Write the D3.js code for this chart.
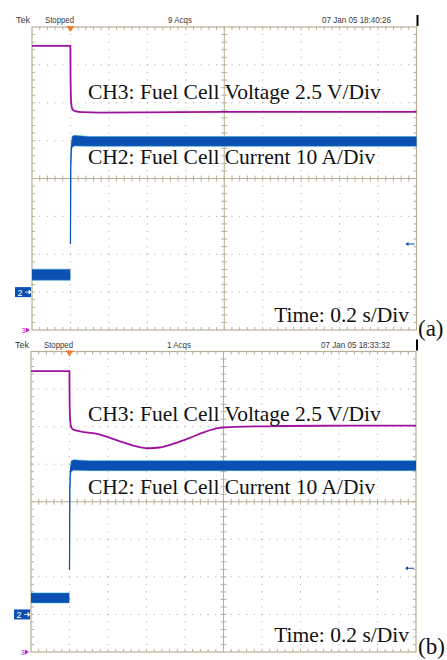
<!DOCTYPE html>
<html><head><meta charset="utf-8">
<script src="https://cdn.jsdelivr.net/npm/d3@7"></script>
<style>body{margin:0;background:#fff;overflow:hidden}</style>
</head><body><svg id="c" width="447" height="660"></svg>
<script>
// ---------------- data ----------------
const secPerDiv = 0.2;
const voltPerDiv = 2.5;
const ampPerDiv = 10;
const panelTags = ["(a)", "(b)"];
const acqLabels = ["9 Acqs", "1 Acqs"];
const stampLabels = ["07 Jan 05 18:40:26", "07 Jan 05 18:33:32"];
const ch3Label = "CH3: Fuel Cell Voltage 2.5 V/Div";
const ch2Label = "CH2: Fuel Cell Current 10 A/Div";
const timeLabel = "Time: 0.2 s/Div";

// panel (a) CH3 voltage (V) vs time (s)
const vA_t = [0, 0.1995, 0.2005, 0.203, 0.206, 0.212, 0.225, 0.26, 0.35, 0.6, 1.0, 1.4, 2.0];
const vA_v = [18.75, 18.75, 16.8, 15.2, 14.75, 14.55, 14.45, 14.38, 14.35, 14.37, 14.4, 14.4, 14.4];
// panel (a) CH2 current (A): before and after the step; ripple = half band width
const iA_pre_t = [0, 0.1995];
const iA_pre_i = [4.6, 4.6];
const iA_pre_r = [1.45, 1.45];
const iA_post_t = [0.2, 0.2015, 0.204, 0.208, 0.22, 0.3, 1.0, 2.0];
const iA_post_i = [12.7, 33, 37.5, 39.6, 40.0, 39.8, 39.8, 39.8];
const iA_post_r = [0, 0.5, 1.3, 1.5, 1.4, 1.3, 1.3, 1.3];
const trigLevelA = 12.7;

// panel (b) CH3 voltage (V)
const vB_t = [0, 0.1995, 0.2005, 0.203, 0.208, 0.215, 0.224, 0.354, 0.458, 0.5625, 0.615, 0.667, 0.745, 0.823, 0.901, 0.979, 1.057, 1.292, 1.656, 2.0];
const vB_v = [18.7, 18.7, 16.8, 15.5, 15.0, 14.85, 14.78, 14.48, 14.04, 13.64, 13.56, 13.61, 13.88, 14.24, 14.64, 14.91, 14.99, 15.04, 15.06, 15.06];
// panel (b) CH2 current (A)
const iB_pre_t = [0, 0.1995];
const iB_pre_i = [4.4, 4.4];
const iB_pre_r = [1.33, 1.33];
const iB_post_t = [0.2, 0.2015, 0.204, 0.208, 0.22, 0.3, 1.0, 2.0];
const iB_post_i = [11.8, 33, 37.3, 39.4, 39.8, 39.6, 39.6, 39.6];
const iB_post_r = [0, 0.5, 1.3, 1.45, 1.4, 1.33, 1.33, 1.33];
const trigLevelB = 12.3;

// ---------------- layout ----------------
const panels = [
  {left: 32, right: 416.5, top: 27, bottom: 330, tag: panelTags[0], acq: acqLabels[0], stamp: stampLabels[0],
   vt: vA_t, vv: vA_v, pre: [iA_pre_t, iA_pre_i, iA_pre_r], post: [iA_post_t, iA_post_i, iA_post_r], trig: trigLevelA,
   ch3Y: 98.5, ch2Y: 163.5, timeY: 322, tagY: 336},
  {left: 31, right: 416, top: 351.5, bottom: 652, tag: panelTags[1], acq: acqLabels[1], stamp: stampLabels[1],
   vt: vB_t, vv: vB_v, pre: [iB_pre_t, iB_pre_i, iB_pre_r], post: [iB_post_t, iB_post_i, iB_post_r], trig: trigLevelB,
   ch3Y: 420.5, ch2Y: 494, timeY: 641.5, tagY: 654}
];

const svg = d3.select("#c");
const gridCol = "#b9af95", dotCol = "#a9a596";
const purple = "#a0109f", blue = "#0a50b2", edge = "#2ea6cf";

panels.forEach(p => {
  const g = svg.append("g");
  const x = d3.scaleLinear().domain([0, 10 * secPerDiv]).range([p.left, p.right]);
  const yV = d3.scaleLinear().domain([0, 8 * voltPerDiv]).range([p.bottom, p.top]);
  const yI = d3.scaleLinear().domain([-1 * ampPerDiv, 7 * ampPerDiv]).range([p.bottom, p.top]);
  const dx = (p.right - p.left) / 10, dy = (p.bottom - p.top) / 8;
  const cx = (p.left + p.right) / 2, cy = (p.top + p.bottom) / 2;

  // header
  const hy = p.top - 4;
  const hdr = [["Tek", p.left - 16, 14], ["Stopped", p.left + 13, 29], [p.acq, p.left + 136, 24], [p.stamp, p.left + 290, 69]];
  hdr.forEach(([t, xx, w]) => g.append("text").attr("x", xx).attr("y", hy).attr("font-family", "Liberation Sans, Arial")
    .attr("font-size", 9).attr("fill", "#3a3a3a").attr("textLength", w).attr("lengthAdjust", "spacingAndGlyphs").text(t));
  g.append("line").attr("x1", p.right + 1).attr("x2", p.right + 1).attr("y1", p.top - 12).attr("y2", p.top - 1)
    .attr("stroke", "#000").attr("stroke-width", 2);

  // dotted grid
  for (let i = 1; i < 10; i++) {
    if (i === 5) continue;
    g.append("line").attr("x1", p.left + i * dx).attr("x2", p.left + i * dx).attr("y1", p.top).attr("y2", p.bottom)
      .attr("stroke", dotCol).attr("stroke-width", 1).attr("stroke-dasharray", `1,${dy / 5 - 1}`).attr("stroke-dashoffset", 0.5);
  }
  for (let j = 1; j < 8; j++) {
    if (j === 4) continue;
    g.append("line").attr("y1", p.top + j * dy).attr("y2", p.top + j * dy).attr("x1", p.left).attr("x2", p.right)
      .attr("stroke", dotCol).attr("stroke-width", 1).attr("stroke-dasharray", `1,${dx / 5 - 1}`).attr("stroke-dashoffset", 0.5);
  }
  // center cross
  g.append("line").attr("x1", cx).attr("x2", cx).attr("y1", p.top).attr("y2", p.bottom).attr("stroke", gridCol);
  g.append("line").attr("y1", cy).attr("y2", cy).attr("x1", p.left).attr("x2", p.right).attr("stroke", gridCol);
  // ticks
  for (let k = 1; k < 50; k++) {
    const xx = p.left + k * dx / 5;
    const L = 3;
    g.append("line").attr("x1", xx).attr("x2", xx).attr("y1", p.top).attr("y2", p.top + L).attr("stroke", gridCol);
    g.append("line").attr("x1", xx).attr("x2", xx).attr("y1", p.bottom).attr("y2", p.bottom - L).attr("stroke", gridCol);
    g.append("line").attr("x1", xx).attr("x2", xx).attr("y1", cy - 3).attr("y2", cy + 3).attr("stroke", gridCol);
  }
  for (let k = 1; k < 40; k++) {
    const yy = p.top + k * dy / 5;
    const L = 3;
    g.append("line").attr("y1", yy).attr("y2", yy).attr("x1", p.left).attr("x2", p.left + L).attr("stroke", gridCol);
    g.append("line").attr("y1", yy).attr("y2", yy).attr("x1", p.right).attr("x2", p.right - L).attr("stroke", gridCol);
    g.append("line").attr("y1", yy).attr("y2", yy).attr("x1", cx - 3).attr("x2", cx + 3).attr("stroke", gridCol);
  }
  g.append("rect").attr("x", p.left).attr("y", p.top).attr("width", p.right - p.left).attr("height", p.bottom - p.top)
    .attr("fill", "none").attr("stroke", gridCol).attr("stroke-width", 1.2);

  // trigger position marker
  const tx = x(secPerDiv);
  g.append("path").attr("d", `M${tx - 4},${p.top - 1}L${tx + 4},${p.top - 1}L${tx},${p.top + 5}Z`).attr("fill", "#f27a2a");

  // CH2 current band
  const band = (arr) => {
    const d = arr[0].map((t, k) => ({t, i: arr[1][k], r: arr[2][k]}));
    g.append("path").datum(d).attr("fill", blue)
      .attr("d", d3.area().x(o => x(o.t)).y0(o => yI(o.i - o.r)).y1(o => yI(o.i + o.r)));
    g.append("path").datum(d).attr("fill", "none").attr("stroke", edge).attr("stroke-width", 0.7).attr("opacity", 0.8)
      .attr("d", d3.line().x(o => x(o.t)).y(o => yI(o.i + o.r)));
    g.append("path").datum(d).attr("fill", "none").attr("stroke", edge).attr("stroke-width", 0.7).attr("opacity", 0.8)
      .attr("d", d3.line().x(o => x(o.t)).y(o => yI(o.i - o.r)));
    g.append("path").datum(d).attr("fill", "none").attr("stroke", blue).attr("stroke-width", 1.2)
      .attr("d", d3.line().x(o => x(o.t)).y(o => yI(o.i)));
  };
  band(p.pre);
  band(p.post);

  // CH3 voltage
  const vd = p.vt.map((t, k) => ({t, v: p.vv[k]}));
  g.append("path").datum(vd).attr("fill", "none").attr("stroke", purple).attr("stroke-width", 1.8)
    .attr("d", d3.line().x(o => x(o.t)).y(o => yV(o.v)).curve(d3.curveMonotoneX));

  // ground markers
  const g2 = yI(0);
  g.append("rect").attr("x", p.left - 17).attr("y", g2 - 5).attr("width", 16).attr("height", 10).attr("fill", blue);
  g.append("text").attr("x", p.left - 12).attr("y", g2 + 3.5).attr("font-family", "Liberation Sans, Arial")
    .attr("font-size", 9).attr("fill", "#fff").attr("text-anchor", "middle").text("2");
  g.append("path").attr("d", `M${p.left - 7},${g2}L${p.left - 3},${g2}M${p.left - 3},${g2 - 2}L${p.left - 1},${g2}L${p.left - 3},${g2 + 2}Z`)
    .attr("stroke", "#fff").attr("fill", "#fff").attr("stroke-width", 0.8);
  const g3 = yV(0);
  g.append("text").attr("x", p.left - 6).attr("y", g3 + 3).attr("font-family", "Liberation Sans, Arial")
    .attr("font-size", 8).attr("fill", "#c020c0").attr("text-anchor", "end").text("3");
  g.append("path").attr("d", `M${p.left - 6},${g3 - 2.5}L${p.left - 2},${g3}L${p.left - 6},${g3 + 2.5}Z`).attr("fill", "#c020c0");

  // trigger level arrow
  const ty = yI(p.trig);
  g.append("line").attr("x1", p.right - 10).attr("x2", p.right - 2).attr("y1", ty).attr("y2", ty).attr("stroke", blue).attr("stroke-width", 1);
  g.append("path").attr("d", `M${p.right - 11},${ty}L${p.right - 8},${ty - 2}L${p.right - 8},${ty + 2}Z`).attr("fill", blue);

  // annotation labels
  const serif = "Liberation Serif, Times New Roman, serif";
  g.append("text").attr("x", 88).attr("y", p.ch3Y).attr("font-family", serif).attr("font-size", 21.5).attr("fill", "#111").text(ch3Label);
  g.append("text").attr("x", 88).attr("y", p.ch2Y).attr("font-family", serif).attr("font-size", 21.5).attr("fill", "#111").text(ch2Label);
  g.append("text").attr("x", 409).attr("y", p.timeY).attr("text-anchor", "end").attr("font-family", serif).attr("font-size", 21.5).attr("fill", "#111").text(timeLabel);
  g.append("text").attr("x", 418).attr("y", p.tagY).attr("font-family", serif).attr("font-size", 23).attr("fill", "#111").text(p.tag);
});
</script></body></html>
